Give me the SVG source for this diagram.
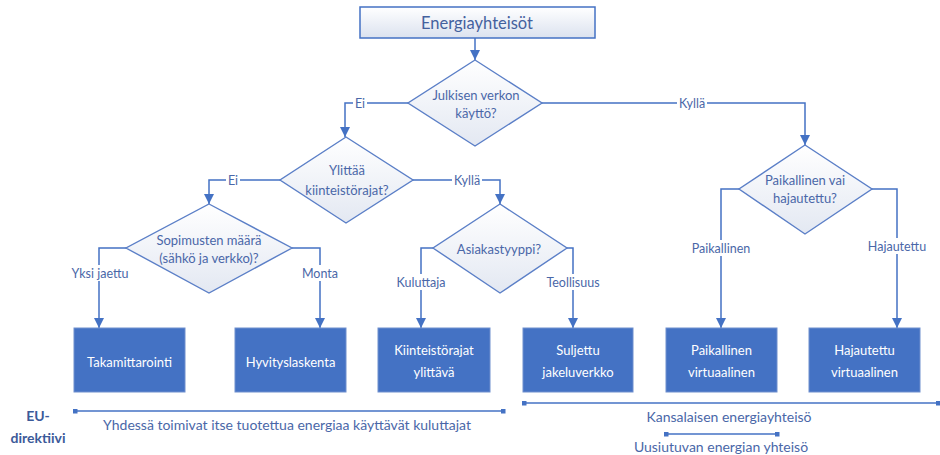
<svg xmlns="http://www.w3.org/2000/svg" width="940" height="455" viewBox="0 0 940 455">
<defs>
<linearGradient id="gDia" x1="0" y1="0" x2="0" y2="1">
<stop offset="0" stop-color="#ffffff"/><stop offset="1" stop-color="#e3e8f2"/>
</linearGradient>
<linearGradient id="gTop" x1="0" y1="0" x2="0" y2="1">
<stop offset="0" stop-color="#ffffff"/><stop offset="1" stop-color="#dbe2ef"/>
</linearGradient>
<marker id="arr" viewBox="0 0 10 10" refX="10" refY="5" markerWidth="10" markerHeight="10" markerUnits="userSpaceOnUse" orient="auto">
<path d="M0,0 L10,5 L0,10 z" fill="#4472C4"/>
</marker>
<marker id="sq" viewBox="0 0 4 4" refX="2" refY="2" markerWidth="5" markerHeight="5" markerUnits="userSpaceOnUse">
<rect width="4" height="4" fill="#4472C4"/>
</marker>
<style>
text{font-family:Lato,"Liberation Sans",sans-serif;text-anchor:middle;dominant-baseline:central}
.c{fill:none;stroke:#4472C4;stroke-width:1.5}
.dia{fill:url(#gDia);stroke:#5b7fc7;stroke-width:1.4}
.t{font-size:13px;fill:#4a67a8}
.lbl{font-size:12.5px;fill:#4a67a8}
.bg{fill:#ffffff}
.box{fill:#4472C4;stroke:#6f8fce;stroke-width:1}
.bt{font-size:13px;fill:#ffffff}
.br{fill:none;stroke:#4472C4;stroke-width:1.3;marker-start:url(#sq);marker-end:url(#sq)}
.bl{font-size:14px;fill:#4a67a8}
</style>
</defs>

<g id="connectors">
<path class="c" d="M475,38 V60" marker-end="url(#arr)"/>
<path class="c" d="M408,103 H345 V137" marker-end="url(#arr)"/>
<path class="c" d="M542,103 H805 V145" marker-end="url(#arr)"/>
<path class="c" d="M280,180 H209 V204" marker-end="url(#arr)"/>
<path class="c" d="M413,180 H500 V204" marker-end="url(#arr)"/>
<path class="c" d="M126,248 H99 V328" marker-end="url(#arr)"/>
<path class="c" d="M292,248 H320 V328" marker-end="url(#arr)"/>
<path class="c" d="M433,248 H421 V328" marker-end="url(#arr)"/>
<path class="c" d="M567,248 H573 V328" marker-end="url(#arr)"/>
<path class="c" d="M739,189 H721 V328" marker-end="url(#arr)"/>
<path class="c" d="M872,189 H897 V328" marker-end="url(#arr)"/>
<rect class="bg" x="353" y="96" width="14" height="14"/><text class="lbl" x="360" y="103">Ei</text>
<rect class="bg" x="677" y="96" width="30" height="14"/><text class="lbl" x="692" y="103">Kyllä</text>
<rect class="bg" x="226" y="173" width="14" height="14"/><text class="lbl" x="233" y="180">Ei</text>
<rect class="bg" x="452" y="173" width="30" height="14"/><text class="lbl" x="467" y="180">Kyllä</text>
<rect class="bg" x="68" y="265" width="62" height="16"/><text class="lbl" x="100" y="273">Yksi jaettu</text>
<rect class="bg" x="302" y="265" width="36" height="16"/><text class="lbl" x="320" y="273">Monta</text>
<rect class="bg" x="395" y="274" width="52" height="16"/><text class="lbl" x="421" y="282">Kuluttaja</text>
<rect class="bg" x="544" y="274" width="58" height="16"/><text class="lbl" x="573" y="282">Teollisuus</text>
<rect class="bg" x="690" y="240" width="62" height="16"/><text class="lbl" x="721" y="248">Paikallinen</text>
<rect class="bg" x="868" y="238" width="58" height="16"/><text class="lbl" x="897" y="246">Hajautettu</text>
</g>

<g id="n-energiayhteisot">
<rect x="360" y="7" width="235" height="31" fill="url(#gTop)" stroke="#4472C4" stroke-width="1.5"/>
<text x="477" y="22.5" style="font-size:16.5px;fill:#44619e">Energiayhteisöt</text>
</g>

<g id="n-julkisen">
<polygon class="dia" points="475,60 542,103 475,146 408,103"/>
<text class="t" x="476" y="95">Julkisen verkon</text>
<text class="t" x="476" y="113">käyttö?</text>
</g>

<g id="n-ylittaa">
<polygon class="dia" points="346,137 413,180 346,223 280,180"/>
<text class="t" x="347" y="170">Ylittää</text>
<text class="t" x="347" y="190">kiinteistörajat?</text>
</g>

<g id="n-sopimusten">
<polygon class="dia" points="209,204 292,248 209,293 126,248"/>
<text class="t" x="209" y="240">Sopimusten määrä</text>
<text class="t" x="209" y="258">(sähkö ja verkko)?</text>
</g>

<g id="n-asiakastyyppi">
<polygon class="dia" points="500,204 567,248 500,293 433,248"/>
<text class="t" x="499" y="249">Asiakastyyppi?</text>
</g>

<g id="n-paikallinen-vai">
<polygon class="dia" points="805,145 872,189 805,234 739,189"/>
<text class="t" x="805" y="180">Paikallinen vai</text>
<text class="t" x="805" y="198">hajautettu?</text>
</g>

<g id="n-takamittarointi">
<rect class="box" x="74" y="328" width="111" height="64"/>
<text class="bt" x="129.5" y="362">Takamittarointi</text>
</g>
<g id="n-hyvityslaskenta">
<rect class="box" x="235" y="328" width="111" height="64"/>
<text class="bt" x="290.5" y="362">Hyvityslaskenta</text>
</g>
<g id="n-kiinteistorajat">
<rect class="box" x="378" y="328" width="112" height="64"/>
<text class="bt" x="434" y="350">Kiinteistörajat</text>
<text class="bt" x="434" y="372">ylittävä</text>
</g>
<g id="n-suljettu">
<rect class="box" x="523" y="328" width="110" height="64"/>
<text class="bt" x="578" y="350">Suljettu</text>
<text class="bt" x="578" y="372">jakeluverkko</text>
</g>
<g id="n-paikallinen-virtuaalinen">
<rect class="box" x="666" y="328" width="111" height="64"/>
<text class="bt" x="721.5" y="350">Paikallinen</text>
<text class="bt" x="721.5" y="372">virtuaalinen</text>
</g>
<g id="n-hajautettu-virtuaalinen">
<rect class="box" x="809" y="328" width="111" height="64"/>
<text class="bt" x="864.5" y="350">Hajautettu</text>
<text class="bt" x="864.5" y="372">virtuaalinen</text>
</g>

<g id="legend">
<text x="38" y="415" style="font-size:14px;font-weight:bold;fill:#3c5a99">EU-</text>
<text x="38" y="437" style="font-size:14px;font-weight:bold;fill:#3c5a99">direktiivi</text>
<path class="br" d="M75,411 H503"/>
<text class="bl" x="287" y="424">Yhdessä toimivat itse tuotettua energiaa käyttävät kuluttajat</text>
<path class="br" d="M524,403 H938"/>
<text class="bl" x="729" y="416">Kansalaisen energiayhteisö</text>
<path class="br" d="M666,434 H777"/>
<text class="bl" x="721" y="446">Uusiutuvan energian yhteisö</text>
</g>
</svg>
